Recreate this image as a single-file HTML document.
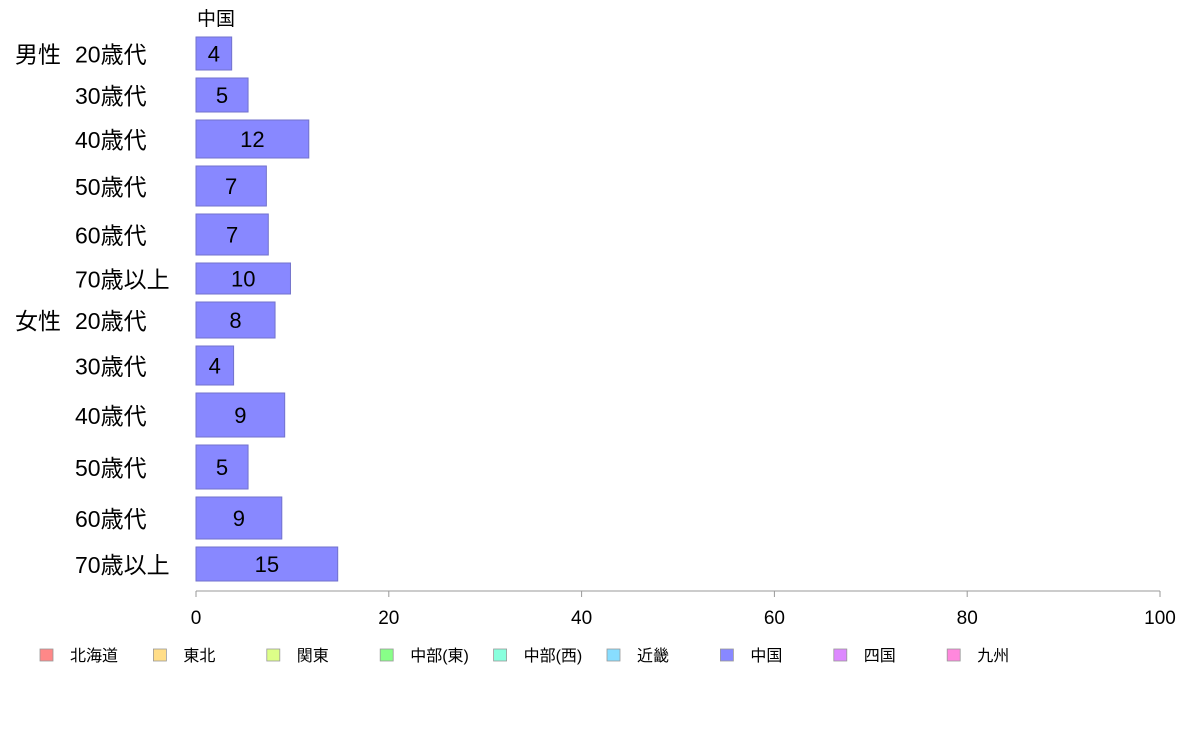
<!DOCTYPE html>
<html><head><meta charset="utf-8"><style>
body{margin:0;background:#fff;font-family:"Liberation Sans","Noto Sans CJK JP",sans-serif;}
svg text{font-family:"Liberation Sans","Noto Sans CJK JP",sans-serif;}
</style></head><body>
<svg id="c" width="1188" height="736"></svg>
<script>
const groups=["男性","","","","","","女性","","","","",""];
const categories=["20歳代","30歳代","40歳代","50歳代","60歳代","70歳以上","20歳代","30歳代","40歳代","50歳代","60歳代","70歳以上"];
const values=[3.7,5.4,11.7,7.3,7.5,9.8,8.2,3.9,9.2,5.4,8.9,14.7];
const labels=["4","5","12","7","7","10","8","4","9","5","9","15"];
const weights=[33,34,38,40,41,31,36,39,44,44,42,34];
const ticks=[0,20,40,60,80,100];
const legendNames=["北海道","東北","関東","中部(東)","中部(西)","近畿","中国","四国","九州"];
const legendColors=["#ff8888","#ffdd88","#ddff88","#88ff88","#88ffdd","#88ddff","#8888ff","#dd88ff","#ff88dd"];
const NS="http://www.w3.org/2000/svg";
const svgEl=document.getElementById('c');
function mk(t,a,txt){const e=document.createElementNS(NS,t);for(const k in a)e.setAttribute(k,a[k]);if(txt!==undefined)e.textContent=txt;svgEl.appendChild(e);return e;}
const x0=196,x1=1160,xmax=100;
const xs=v=>x0+v/xmax*(x1-x0);
const gap=8,yTop=37;
const total=weights.reduce((a,b)=>a+b,0);
const avail=581-yTop-gap*(weights.length-1);
let yPos=yTop;
const pt=mk('text',{x:197,y:25,'font-size':19,fill:'#000'},'中国');


values.forEach((v,i)=>{
  const h=weights[i]/total*avail;
  const r=mk('rect',{x:x0,y:yPos,width:xs(v)-x0,height:h,fill:'#8888ff',stroke:'#7272cc','stroke-width':1});
  
  
  const l=mk('text',{x:(x0+xs(v))/2,y:yPos+h/2+8,'font-size':22,'text-anchor':'middle',fill:'#000'},labels[i]);
  
  
  const c=mk('text',{x:75,y:yPos+h/2+9,'font-size':23,fill:'#000'},categories[i]);
  
  
  if(groups[i]){
    const g=mk('text',{x:15,y:yPos+h/2+9,'font-size':23,fill:'#000'},groups[i]);
    
    
  }
  yPos+=h+gap;
});
const ax=mk('line',{x1:x0,x2:x1,y1:591,y2:591,stroke:'#999','stroke-width':1});


ticks.forEach(v=>{
  const tk=mk('line',{x1:xs(v),x2:xs(v),y1:591,y2:597,stroke:'#999'});
  
  
  const tl=mk('text',{x:xs(v),y:624,'font-size':19,'text-anchor':'middle',fill:'#000'},String(v));
  
  
});
legendNames.forEach((n,i)=>{
  const lx=40+i*113.4;
  const s=mk('rect',{x:lx,y:649,width:13,height:12,fill:legendColors[i],stroke:'#999','stroke-width':0.8});
  
  
  const lt=mk('text',{x:lx+30,y:661,'font-size':16,fill:'#000'},n);
  
  
});
</script>
</body></html>
